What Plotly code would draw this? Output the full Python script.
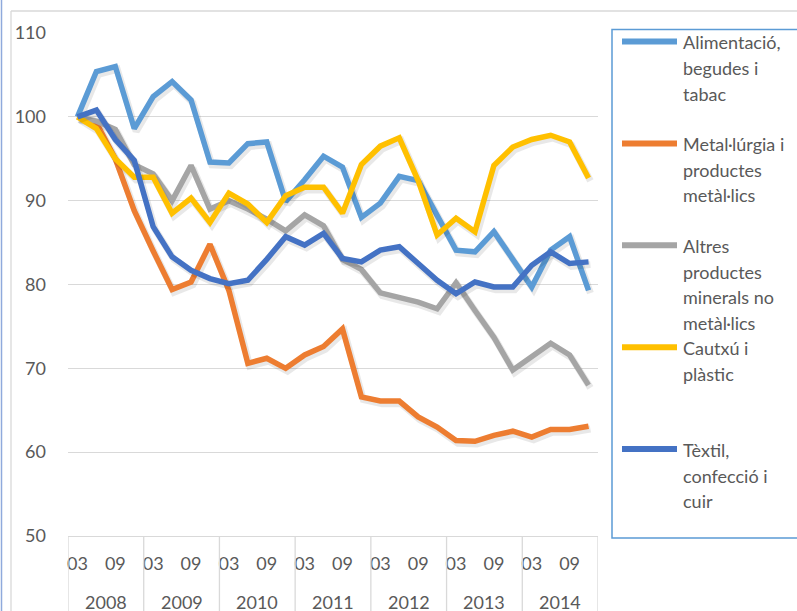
import plotly.graph_objects as go

# Quarterly index (2008 Q1 = 100), 2008-2014
years = ["2008", "2009", "2010", "2011", "2012", "2013", "2014"]
quarter_labels = ["03", "09"]          # labelled quarters within each year
quarters = list(range(28))

series_names = [
    "Alimentació,<br>begudes i<br>tabac",
    "Metal·lúrgia i<br>productes<br>metàl·lics",
    "Altres<br>productes<br>minerals no<br>metàl·lics",
    "Cautxú i<br>plàstic",
    "Tèxtil,<br>confecció i<br>cuir",
]

alimentacio = [100.0, 105.4, 106.0, 98.6, 102.4, 104.2, 102.0, 94.6, 94.5, 96.8,
               97.0, 89.9, 92.5, 95.3, 94.0, 88.0, 89.7, 92.9, 92.4, 88.1,
               84.1, 83.9, 86.3, 83.0, 79.7, 84.1, 85.7, 79.3]
metallurgia = [100.0, 99.3, 95.0, 88.8, 84.0, 79.4, 80.3, 84.8, 79.3, 70.6,
               71.2, 70.0, 71.6, 72.6, 74.7, 66.6, 66.1, 66.1, 64.2, 63.0,
               61.4, 61.3, 62.0, 62.5, 61.8, 62.7, 62.7, 63.1]
altres = [100.0, 99.5, 98.5, 94.3, 93.2, 90.0, 94.2, 89.0, 90.0, 89.0,
          87.8, 86.4, 88.3, 87.0, 83.0, 81.8, 79.0, 78.4, 77.9, 77.1,
          80.2, 76.9, 73.7, 69.8, 71.4, 73.0, 71.6, 68.0]
cautxu = [100.0, 98.6, 95.0, 92.8, 92.8, 88.5, 90.3, 87.4, 90.9, 89.6,
          87.4, 90.6, 91.6, 91.6, 88.5, 94.3, 96.5, 97.5, 92.4, 85.9,
          87.9, 86.3, 94.2, 96.4, 97.3, 97.8, 97.0, 92.7]
textil = [100.0, 100.8, 97.3, 94.8, 86.9, 83.3, 81.7, 80.7, 80.1, 80.5,
          83.0, 85.7, 84.7, 86.1, 83.1, 82.7, 84.1, 84.5, 82.5, 80.5,
          78.9, 80.3, 79.7, 79.7, 82.3, 83.9, 82.5, 82.7]

series_values = [alimentacio, metallurgia, altres, cautxu, textil]
series_colors = ["#5B9BD5", "#ED7D31", "#A5A5A5", "#FFC000", "#4472C4"]

# Canvas and plot-area geometry (pixels)
W, H = 797, 611
L, R, T, B = 68, 598, 33, 536
FONT = "Lato"
TEXT = "#595959"
GRID = "#D9D9D9"


def fx(px):
    return (px - L) / (R - L)


def fy(py):
    return (B - py) / (B - T)


fig = go.Figure()

for name, vals, color in zip(series_names, series_values, series_colors):
    # soft drop shadow under each line
    fig.add_trace(go.Scatter(
        x=[q + 0.1 for q in quarters], y=[v - 0.33 for v in vals],
        mode="lines", line=dict(color="rgba(0,0,0,0.09)", width=7),
        hoverinfo="skip", showlegend=False))
    fig.add_trace(go.Scatter(
        x=quarters, y=vals, mode="lines",
        line=dict(color=color, width=5.5),
        name=name.replace("<br>", " "), showlegend=False))

shapes = []
annotations = []

# year dividers in the category band
for k in range(len(years) + 1):
    shapes.append(dict(type="line", xref="x", yref="paper",
                       x0=-0.5 + 4 * k, x1=-0.5 + 4 * k, y0=0, y1=fy(H + 5),
                       line=dict(color=GRID, width=1.3)))
for k, yr in enumerate(years):
    annotations.append(dict(xref="x", yref="paper", x=1.5 + 4 * k, y=fy(602),
                            text=yr, showarrow=False, yanchor="middle",
                            font=dict(family=FONT, size=18, color=TEXT)))

# chart-area frame and outer edge
shapes.append(dict(type="line", xref="paper", yref="paper",
                   x0=fx(11), x1=fx(11), y0=fy(11), y1=fy(H + 5),
                   line=dict(color=GRID, width=1.3)))
shapes.append(dict(type="line", xref="paper", yref="paper",
                   x0=fx(11), x1=fx(W + 5), y0=fy(11), y1=fy(11),
                   line=dict(color=GRID, width=1.3)))
shapes.append(dict(type="line", xref="paper", yref="paper",
                   x0=fx(1.5), x1=fx(1.5), y0=fy(-2), y1=fy(H + 5),
                   line=dict(color="#8FAADC", width=1.5)))

# legend panel
shapes.append(dict(type="rect", xref="paper", yref="paper",
                   x0=fx(612), x1=fx(W + 10), y0=fy(538), y1=fy(29.5),
                   line=dict(color="#5B9BD5", width=1.5)))
entry_step = 101.9
line_step = 25.5
for k, (name, color) in enumerate(zip(series_names, series_colors)):
    y0 = 41.5 + entry_step * k
    shapes.append(dict(type="line", xref="paper", yref="paper",
                       x0=fx(622), x1=fx(677), y0=fy(y0), y1=fy(y0),
                       line=dict(color=color, width=6)))
    for j, part in enumerate(name.split("<br>")):
        annotations.append(dict(xref="paper", yref="paper",
                                x=fx(681), y=fy(y0 + line_step * j + 1),
                                text=part, showarrow=False,
                                xanchor="left", yanchor="middle",
                                font=dict(family=FONT, size=18, color=TEXT)))

fig.update_layout(
    width=W, height=H, autosize=False,
    margin=dict(l=L, r=W - R, t=T, b=H - B, pad=0),
    paper_bgcolor="white", plot_bgcolor="white",
    font=dict(family=FONT, size=18, color=TEXT),
    showlegend=False,
    shapes=shapes,
    annotations=annotations,
    xaxis=dict(
        range=[-0.5, 27.5],
        tickmode="array",
        tickvals=quarters[::2],
        ticktext=quarter_labels * len(years),
        showgrid=False, zeroline=False,
        showline=True, linecolor=GRID, linewidth=1.3,
        ticks="", ticklabelstandoff=11,
        tickfont=dict(family=FONT, size=18, color=TEXT),
    ),
    yaxis=dict(
        range=[50, 110], dtick=10, tick0=50,
        showgrid=True, gridcolor=GRID, gridwidth=1.3,
        zeroline=False, showline=False, ticks="",
        ticklabelstandoff=21,
        tickfont=dict(family=FONT, size=18, color=TEXT),
    ),
)

fig.write_html("out.html")
